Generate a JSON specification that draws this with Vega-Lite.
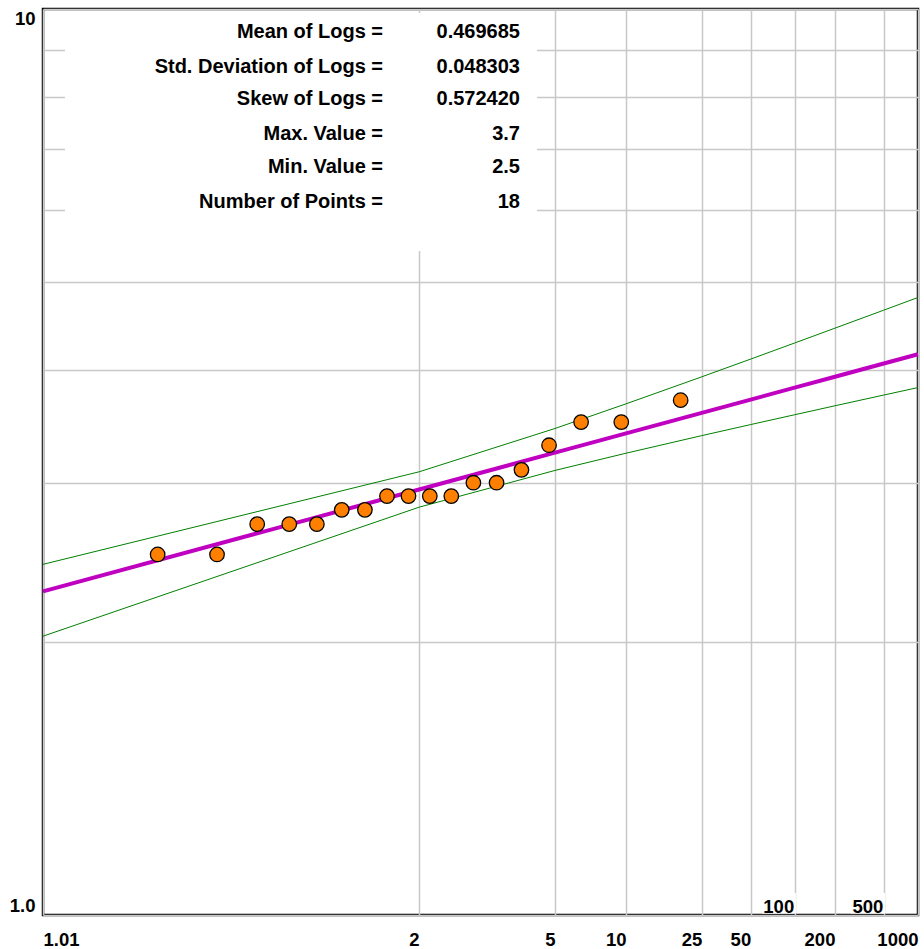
{
  "$schema": "https://vega.github.io/schema/vega-lite/v6.json",
  "width": 875,
  "height": 906,
  "autosize": {"type": "none"},
  "padding": {"left": 43, "top": 9, "right": 6, "bottom": 34},
  "background": "white",
  "config": {
    "view": {"stroke": "black", "strokeWidth": 2.5},
    "font": "Liberation Sans"
  },
  "datasets": {
    "points": [
      {"rank": 1, "T": 19.0, "z": 1.6199, "Q": 3.7},
      {"rank": 2, "T": 9.5, "z": 1.2521, "Q": 3.5},
      {"rank": 3, "T": 6.333, "z": 1.0032, "Q": 3.5},
      {"rank": 4, "T": 4.75, "z": 0.8046, "Q": 3.3},
      {"rank": 5, "T": 3.8, "z": 0.6337, "Q": 3.1},
      {"rank": 6, "T": 3.167, "z": 0.4795, "Q": 3.0},
      {"rank": 7, "T": 2.714, "z": 0.3360, "Q": 3.0},
      {"rank": 8, "T": 2.375, "z": 0.1992, "Q": 2.9},
      {"rank": 9, "T": 2.111, "z": 0.0660, "Q": 2.9},
      {"rank": 10, "T": 1.9, "z": -0.0660, "Q": 2.9},
      {"rank": 11, "T": 1.727, "z": -0.1992, "Q": 2.9},
      {"rank": 12, "T": 1.583, "z": -0.3360, "Q": 2.8},
      {"rank": 13, "T": 1.462, "z": -0.4795, "Q": 2.8},
      {"rank": 14, "T": 1.357, "z": -0.6337, "Q": 2.7},
      {"rank": 15, "T": 1.267, "z": -0.8046, "Q": 2.7},
      {"rank": 16, "T": 1.188, "z": -1.0032, "Q": 2.7},
      {"rank": 17, "T": 1.118, "z": -1.2521, "Q": 2.5},
      {"rank": 18, "T": 1.056, "z": -1.6199, "Q": 2.5}
    ],
    "curves": [
      {"T": 1.01, "z": -2.3301, "fit": 2.2758, "upper": 2.4381, "lower": 2.0312},
      {"T": 2, "z": 0, "fit": 2.9491, "upper": 3.0846, "lower": 2.8194},
      {"T": 5, "z": 0.8416, "fit": 3.2385, "upper": 3.4435, "lower": 3.0952},
      {"T": 10, "z": 1.2816, "fit": 3.4007, "upper": 3.6661, "lower": 3.2338},
      {"T": 25, "z": 1.7507, "fit": 3.5829, "upper": 3.9266, "lower": 3.3814},
      {"T": 50, "z": 2.0537, "fit": 3.7057, "upper": 4.1077, "lower": 3.4779},
      {"T": 100, "z": 2.3263, "fit": 3.8201, "upper": 4.2793, "lower": 3.5659},
      {"T": 200, "z": 2.5758, "fit": 3.9274, "upper": 4.4435, "lower": 3.6480},
      {"T": 500, "z": 2.8782, "fit": 4.0616, "upper": 4.6517, "lower": 3.7488},
      {"T": 1000, "z": 3.0902, "fit": 4.1585, "upper": 4.8041, "lower": 3.8207}
    ],
    "stats": [
      {"label": "Mean of Logs =", "val": "0.469685", "q": 9.44},
      {"label": "Std. Deviation of Logs =", "val": "0.048303", "q": 8.64},
      {"label": "Skew of Logs =", "val": "0.572420", "q": 7.95},
      {"label": "Max. Value =", "val": "3.7", "q": 7.28},
      {"label": "Min. Value =", "val": "2.5", "q": 6.70},
      {"label": "Number of Points =", "val": "18", "q": 6.13}
    ],
    "masks": [
      {"z1": -2.194, "z2": 0.730, "q1": 5.406, "q2": 9.9},
      {"z1": 2.124, "z2": 2.334, "q1": 1.004, "q2": 1.0575},
      {"z1": 2.673, "z2": 2.886, "q1": 1.004, "q2": 1.0575}
    ],
    "tags": [
      {"T": "100", "z": 2.3263},
      {"T": "500", "z": 2.8782}
    ]
  },
  "layer": [
    {
      "data": {"name": "masks"},
      "mark": {"type": "rect", "fill": "white", "strokeWidth": 0},
      "encoding": {
        "x": {
          "field": "z1", "type": "quantitative", "title": null,
          "scale": {"domain": [-2.3301, 3.0902], "nice": false, "zero": false},
          "axis": {
            "title": null, "orient": "bottom",
            "values": [-2.3301, 0, 0.8416, 1.2816, 1.7507, 2.0537, 2.3263, 2.5758, 2.8782, 3.0902],
            "grid": true, "gridColor": "#c8c8c8", "gridWidth": 1.5,
            "ticks": false, "domain": false,
            "labelExpr": "datum.value < -2 ? '1.01' : datum.value < 0.5 ? '2' : datum.value < 1 ? '5' : datum.value < 1.5 ? '10' : datum.value < 1.9 ? '25' : datum.value < 2.2 ? '50' : datum.value < 2.4 ? '' : datum.value < 2.7 ? '200' : datum.value < 3 ? '' : '1000'",
            "labelFont": "Liberation Sans", "labelFontWeight": "bold", "labelFontSize": 18.5,
            "labelColor": "black", "labelPadding": 15,
            "labelAlign": {"condition": {"test": "datum.value < -2", "value": "left"}, "value": "right"},
            "labelOverlap": false, "labelBound": false, "labelFlush": false
          }
        },
        "x2": {"field": "z2"},
        "y": {
          "field": "q1", "type": "quantitative", "title": null,
          "scale": {"type": "log", "domain": [1, 10], "nice": false},
          "axis": {
            "title": null, "orient": "left",
            "values": [1, 2, 3, 4, 5, 6, 7, 8, 9, 10],
            "grid": true, "gridColor": "#c8c8c8", "gridWidth": 1.5,
            "ticks": false, "domain": false,
            "labelExpr": "datum.value == 10 ? '10' : datum.value == 1 ? '1.0' : ''",
            "labelFont": "Liberation Sans", "labelFontWeight": "bold", "labelFontSize": 18.5,
            "labelColor": "black", "labelPadding": 8,
            "labelFlush": true, "labelOverlap": false, "labelBound": false
          }
        },
        "y2": {"field": "q2"}
      }
    },
    {
      "data": {"name": "curves"},
      "mark": {"type": "line", "color": "#008000", "strokeWidth": 1},
      "encoding": {
        "x": {"field": "z", "type": "quantitative", "title": null},
        "y": {"field": "upper", "type": "quantitative", "title": null}
      }
    },
    {
      "data": {"name": "curves"},
      "mark": {"type": "line", "color": "#008000", "strokeWidth": 1},
      "encoding": {
        "x": {"field": "z", "type": "quantitative", "title": null},
        "y": {"field": "lower", "type": "quantitative", "title": null}
      }
    },
    {
      "data": {"name": "curves"},
      "mark": {"type": "line", "color": "#c000c0", "strokeWidth": 4},
      "encoding": {
        "x": {"field": "z", "type": "quantitative", "title": null},
        "y": {"field": "fit", "type": "quantitative", "title": null}
      }
    },
    {
      "data": {"name": "points"},
      "mark": {"type": "circle", "fill": "#ff8000", "stroke": "black", "strokeWidth": 1.3, "size": 210, "opacity": 1},
      "encoding": {
        "x": {"field": "z", "type": "quantitative", "title": null},
        "y": {"field": "Q", "type": "quantitative", "title": null}
      }
    },
    {
      "data": {"name": "stats"},
      "mark": {"type": "text", "align": "right", "baseline": "middle", "font": "Liberation Sans", "fontWeight": "bold", "fontSize": 20, "color": "black"},
      "encoding": {
        "x": {"datum": -0.2239, "type": "quantitative", "title": null},
        "y": {"field": "q", "type": "quantitative", "title": null},
        "text": {"field": "label"}
      }
    },
    {
      "data": {"name": "stats"},
      "mark": {"type": "text", "align": "right", "baseline": "middle", "font": "Liberation Sans", "fontWeight": "bold", "fontSize": 20, "color": "black"},
      "encoding": {
        "x": {"datum": 0.6247, "type": "quantitative", "title": null},
        "y": {"field": "q", "type": "quantitative", "title": null},
        "text": {"field": "val"}
      }
    },
    {
      "data": {"name": "tags"},
      "mark": {"type": "text", "align": "right", "baseline": "alphabetic", "dy": -2.5, "dx": -0.5, "font": "Liberation Sans", "fontWeight": "bold", "fontSize": 18.5, "color": "black"},
      "encoding": {
        "x": {"field": "z", "type": "quantitative", "title": null},
        "y": {"datum": 1, "type": "quantitative", "title": null},
        "text": {"field": "T"}
      }
    }
  ]
}
